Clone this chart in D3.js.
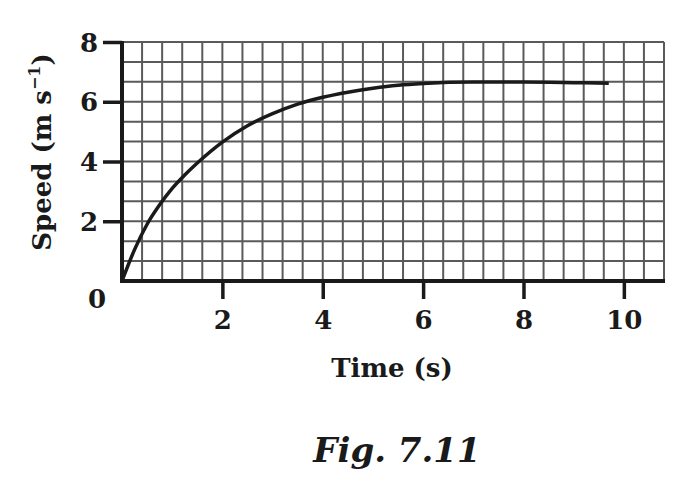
<!DOCTYPE html>
<html>
<head>
<meta charset="utf-8">
<script src="https://cdn.jsdelivr.net/npm/d3@7"></script>
<style>
  html, body { margin: 0; padding: 0; background: #fff; }
  svg { display: block; }
  text { font-family: "DejaVu Serif", "Liberation Serif", serif; font-weight: bold; fill: #1a1a1a; }
</style>
</head>
<body>
<svg id="chart" width="698" height="482"></svg>
<script>
// ---- data ----
const timeValues  = [0, 0.25, 0.5, 0.75, 1.0, 1.25, 1.5, 2.0, 2.5, 3.0, 3.5, 4.0, 4.5, 5.0, 5.5, 6.0, 7.0, 8.0, 9.0, 9.7];
const speedValues = [0, 1.05, 1.9, 2.55, 3.1, 3.55, 3.95, 4.65, 5.2, 5.6, 5.92, 6.15, 6.32, 6.45, 6.55, 6.61, 6.66, 6.66, 6.64, 6.62];
const xTickValues = [2, 4, 6, 8, 10];
const yTickValues = [2, 4, 6, 8];
const xGridStep = 0.4, xGridCount = 28;     // minor grid columns
const yGridStep = 2 / 3, yGridCount = 13;   // minor grid rows
const xLabel = "Time (s)";
const yLabel = "Speed (m s";
const yLabelSup = "\u22121";
const caption = "Fig. 7.11";

const svg = d3.select("#chart");
const x = d3.scaleLinear().domain([0, 10.8]).range([122, 664]);
const y = d3.scaleLinear().domain([0, 8]).range([281, 42]);

const xGrid = d3.range(xGridCount).map(i => i * xGridStep);
const yGrid = d3.range(yGridCount).map(i => i * yGridStep);

// grid
const grid = svg.append("g").attr("stroke", "#5a5a5a").attr("stroke-width", 2);
grid.selectAll("line.v").data(xGrid).join("line").attr("class", "v")
  .attr("x1", d => x(d)).attr("x2", d => x(d))
  .attr("y1", y(0)).attr("y2", y(8));
grid.selectAll("line.h").data(yGrid).join("line").attr("class", "h")
  .attr("x1", x(0)).attr("x2", x(10.8))
  .attr("y1", d => y(d)).attr("y2", d => y(d));

// curve
const line = d3.line().x((d, i) => x(timeValues[i])).y(d => y(d)).curve(d3.curveMonotoneX);
svg.append("path").datum(speedValues)
  .attr("d", line).attr("fill", "none").attr("stroke", "#1a1a1a").attr("stroke-width", 3.5);

// axes
const xAxis = d3.axisBottom(x).tickValues(xTickValues).tickSize(18).tickPadding(12).tickSizeOuter(0);
const yAxis = d3.axisLeft(y).tickValues(yTickValues).tickSize(19).tickPadding(5).tickSizeOuter(0);

const gx = svg.append("g").attr("transform", `translate(0,${y(0)})`).call(xAxis);
const gy = svg.append("g").attr("transform", `translate(${x(0)},0)`).call(yAxis);

[gx, gy].forEach(g => {
  g.select(".domain").remove();
  g.selectAll(".tick line").attr("stroke", "#1a1a1a").attr("stroke-width", 3.5);
  g.selectAll(".tick text").attr("font-size", 26).attr("font-family", "DejaVu Serif").attr("font-weight", "bold").attr("fill", "#1a1a1a");
});
gx.selectAll(".tick text").attr("dy", "0.71em");
gy.selectAll(".tick text").attr("dy", "0.35em");

// axis lines
svg.append("line").attr("x1", x(0) - 2).attr("x2", x(10.8) + 1).attr("y1", y(0)).attr("y2", y(0))
  .attr("stroke", "#1a1a1a").attr("stroke-width", 4);
svg.append("line").attr("x1", x(0)).attr("x2", x(0)).attr("y1", y(0) + 2).attr("y2", y(8) - 1)
  .attr("stroke", "#1a1a1a").attr("stroke-width", 4);

// origin label
svg.append("text").attr("x", x(0) - 25).attr("y", y(0) + 27).attr("text-anchor", "middle")
  .attr("font-size", 26).text("0");

// axis titles
svg.append("text").attr("x", 392).attr("y", 377).attr("text-anchor", "middle")
  .attr("font-size", 26).text(xLabel);

const yt = svg.append("text").attr("transform", "translate(51,152) rotate(-90)")
  .attr("text-anchor", "middle").attr("font-size", 26);
yt.append("tspan").text(yLabel);
yt.append("tspan").attr("font-size", 16).attr("dy", -11).text(yLabelSup);
yt.append("tspan").attr("dy", 11).text(")");

// caption
svg.append("text").attr("x", 397).attr("y", 462).attr("text-anchor", "middle")
  .attr("font-size", 34).attr("font-style", "italic").text(caption);
</script>
</body>
</html>
